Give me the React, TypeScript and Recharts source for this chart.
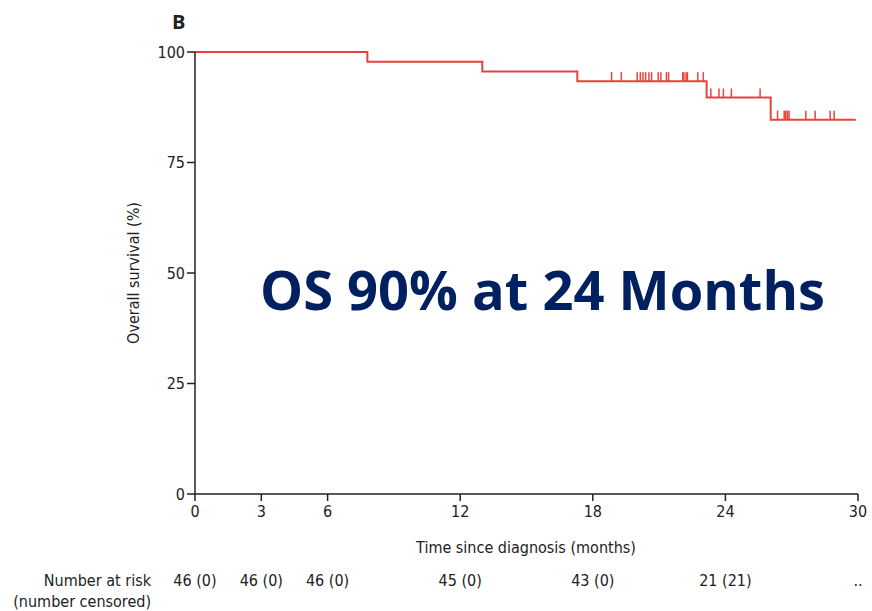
import { ComposedChart, Line, Scatter, XAxis, YAxis } from 'recharts';

// Kaplan-Meier steps: months / overall survival (%)
const stepMonths = [0, 7.8, 13.0, 17.3, 23.15, 26.05, 29.9];
const stepSurvival = [100, 97.8, 95.6, 93.4, 89.7, 84.7, 84.7];

// censoring marks, grouped by the survival level they sit on
const censorMonths = [
  18.85, 19.29, 20.01, 20.15, 20.27, 20.39, 20.54, 20.66, 20.96, 21.08, 21.33, 21.43,
  22.07, 22.12, 22.22, 22.28, 22.75, 23.0,
  23.34, 23.71, 23.91, 24.27, 25.57,
  26.36, 26.66, 26.73, 26.81, 26.88, 27.64, 28.06, 28.74, 28.92,
];
const censorSurvival = [
  93.4, 93.4, 93.4, 93.4, 93.4, 93.4, 93.4, 93.4, 93.4, 93.4, 93.4, 93.4,
  93.4, 93.4, 93.4, 93.4, 93.4, 93.4,
  89.7, 89.7, 89.7, 89.7, 89.7,
  84.7, 84.7, 84.7, 84.7, 84.7, 84.7, 84.7, 84.7, 84.7,
];

const xTicks = [0, 3, 6, 12, 18, 24, 30];
const yTicks = [0, 25, 50, 75, 100];
const riskMonths = [0, 3, 6, 12, 18, 24, 30];
const riskLabels = ['46 (0)', '46 (0)', '46 (0)', '45 (0)', '43 (0)', '21 (21)', '..'];

const curve = stepMonths.map((t, i) => ({ t, s: stepSurvival[i] }));
const censored = censorMonths.map((t, i) => ({ t, s: censorSurvival[i] }));

const RED = '#e3443d';
const INK = '#222';
const FONT = '"DejaVu Sans Condensed", "Noto Sans", sans-serif';
const FS = 16;

const W = 872;
const H = 611;
const M = { top: 52, right: 14, bottom: 87, left: 135 };
const plotLeft = 195;
const plotRight = W - M.right;
const xPos = (m: number) => plotLeft + ((plotRight - plotLeft) * m) / 30;

const CensorMark = (props: any) => {
  const { cx, cy } = props;
  return <line x1={cx} x2={cx} y1={cy} y2={cy - 9} stroke={RED} strokeWidth={1.5} />;
};

const App = () => {
  return (
    <div style={{ position: 'relative', width: W, height: H, background: '#fff', fontFamily: FONT }}>
      <style>{'body{margin:0}'}</style>
      <ComposedChart width={W} height={H} margin={M}>
        <XAxis
          type="number"
          dataKey="t"
          domain={[0, 30]}
          ticks={xTicks}
          height={30}
          stroke={INK}
          strokeWidth={1.5}
          tickSize={7}
          tick={{ fill: INK, fontSize: FS, fontFamily: FONT, dy: 3 }}
          allowDataOverflow
        />
        <YAxis
          type="number"
          dataKey="s"
          domain={[0, 100]}
          ticks={yTicks}
          width={60}
          stroke={INK}
          strokeWidth={1.5}
          tickSize={8}
          tick={{ fill: INK, fontSize: FS, fontFamily: FONT }}
        />
        <Line
          data={curve}
          dataKey="s"
          type="stepAfter"
          stroke={RED}
          strokeWidth={2}
          dot={false}
          isAnimationActive={false}
        />
        <Scatter data={censored} dataKey="s" shape={CensorMark} isAnimationActive={false} />
      </ComposedChart>

      <svg width={W} height={H} style={{ position: 'absolute', left: 0, top: 0, pointerEvents: 'none' }}>
        <text x={172} y={29} fontSize={20} fontWeight={700} fill={INK} fontFamily='"Open Sans", sans-serif'>
          B
        </text>
        <text
          transform="translate(139 273) rotate(-90)"
          textAnchor="middle"
          fontSize={FS}
          fill={INK}
          fontFamily={FONT}
        >
          Overall survival (%)
        </text>
        <text x={526} y={553} textAnchor="middle" fontSize={FS} fill={INK} fontFamily={FONT}>
          Time since diagnosis  (months)
        </text>
        <text x={151} y={586} textAnchor="end" fontSize={FS} fill={INK} fontFamily={FONT}>
          Number at risk
        </text>
        <text x={151} y={607} textAnchor="end" fontSize={FS} fill={INK} fontFamily={FONT}>
          (number censored)
        </text>
        {riskMonths.map((m, i) => (
          <text key={m} x={xPos(m)} y={586} textAnchor="middle" fontSize={FS} fill={INK} fontFamily={FONT}>
            {riskLabels[i]}
          </text>
        ))}
        <text
          x={260}
          y={310}
          fontSize={54}
          fontWeight={700}
          fill="#002060"
          fontFamily='"Open Sans", sans-serif'
          textLength={565}
          lengthAdjust="spacingAndGlyphs"
        >
          OS 90% at 24 Months
        </text>
      </svg>
    </div>
  );
};

export default App;
